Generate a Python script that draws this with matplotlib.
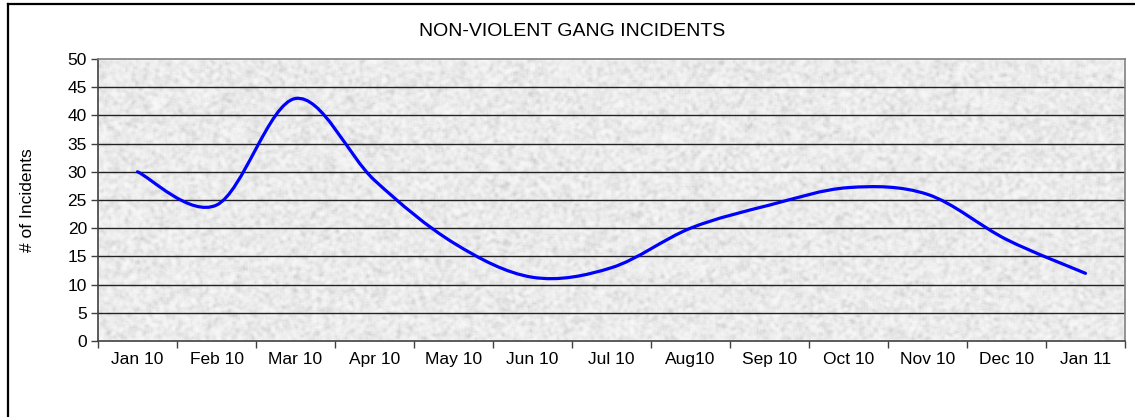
import numpy as np
import matplotlib
matplotlib.use("Agg")
import matplotlib.pyplot as plt
from matplotlib.path import Path
from matplotlib.patches import PathPatch
from matplotlib.lines import Line2D

months = ["Jan 10", "Feb 10", "Mar 10", "Apr 10", "May 10", "Jun 10", "Jul 10",
          "Aug10", "Sep 10", "Oct 10", "Nov 10", "Dec 10", "Jan 11"]
incidents = [30, 24.1, 43, 28.5, 17.4, 11.3, 13, 20, 24.1, 27.2, 26, 18, 12]
y_ticks = [0, 5, 10, 15, 20, 25, 30, 35, 40, 45, 50]
title = "NON-VIOLENT GANG INCIDENTS"
ylabel = "# of Incidents"

plt.rcParams['font.family'] = ['Liberation Sans', 'DejaVu Sans']

W, H = 1135, 417
fig = plt.figure(figsize=(W / 100, H / 100), dpi=100)
L, R, T, B = 98, 1125, 59, 341
ax = fig.add_axes([L / W, 1 - B / H, (R - L) / W, (B - T) / H])

# textured background (granite-like)
rng = np.random.default_rng(7)
noise = rng.random((200, 700))
k = np.ones(3) / 3
noise = np.apply_along_axis(lambda r: np.convolve(r, k, mode='same'), 1, noise)
noise = np.apply_along_axis(lambda c: np.convolve(c, k, mode='same'), 0, noise)
noise = (noise - noise.min()) / (noise.max() - noise.min())
tex = 0.98 - 0.20 * noise ** 2
ax.imshow(tex, cmap='gray', vmin=0, vmax=1, extent=[0, 1, 0, 1],
          transform=ax.transAxes, aspect='auto', zorder=0, interpolation='bilinear')

x = np.arange(len(months))
y = np.array(incidents, dtype=float)

# Excel-style smoothed line (cubic Bezier, Catmull-Rom control points)
verts = [(x[0], y[0])]
codes = [Path.MOVETO]
n = len(x)
for i in range(n - 1):
    p0 = np.array([x[max(i - 1, 0)], y[max(i - 1, 0)]])
    p1 = np.array([x[i], y[i]])
    p2 = np.array([x[i + 1], y[i + 1]])
    p3 = np.array([x[min(i + 2, n - 1)], y[min(i + 2, n - 1)]])
    c1 = p1 + (p2 - p0) / 6.0
    c2 = p2 - (p3 - p1) / 6.0
    verts += [tuple(c1), tuple(c2), tuple(p2)]
    codes += [Path.CURVE4] * 3
patch = PathPatch(Path(verts, codes), facecolor='none', edgecolor='#0000FF',
                  lw=2.3, zorder=3, capstyle='round', joinstyle='round')
ax.add_patch(patch)

fs = 12.5
ax.set_xlim(-0.5, len(months) - 0.5)
ax.set_ylim(0, 50)
ax.set_yticks(y_ticks)
ax.set_yticklabels([str(v) for v in y_ticks], fontsize=fs)
ax.set_xticks(x)
ax.set_xticklabels(months, fontsize=fs)
ax.set_xticks(np.arange(len(months) + 1) - 0.5, minor=True)
ax.tick_params(axis='x', which='major', length=0, pad=8)
ax.tick_params(axis='x', which='minor', length=5, width=1, color='#404040', direction='out')
ax.tick_params(axis='y', length=5, width=1, color='#404040', direction='out', pad=3)

for v in y_ticks[1:-1]:
    ax.axhline(v, color='#222222', lw=1, zorder=1)

for s in ['left', 'bottom']:
    ax.spines[s].set_color('#404040')
    ax.spines[s].set_linewidth(1.2)
for s in ['top', 'right']:
    ax.spines[s].set_color('#808080')
    ax.spines[s].set_linewidth(1.2)

fig.text(572.5 / W, 1 - 32 / H, title, ha='center', va='center', fontsize=14)
fig.text(27 / W, 1 - 200 / H, ylabel, ha='center', va='center', rotation=90, fontsize=fs)

# outer chart border
fig.add_artist(Line2D([7.5 / W, 7.5 / W], [0, 1 - 4 / H], color='black', lw=1.6,
                      transform=fig.transFigure))
fig.add_artist(Line2D([7.5 / W, 1], [1 - 4 / H, 1 - 4 / H], color='black', lw=1.6,
                      transform=fig.transFigure))

fig.savefig("out.png", dpi=100, facecolor='white')
